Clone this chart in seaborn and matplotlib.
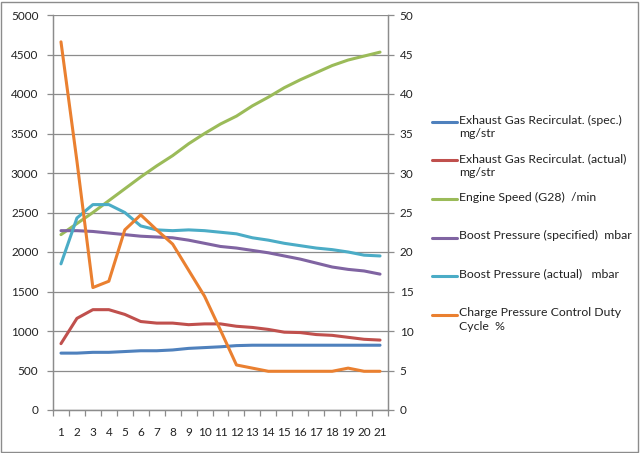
import pandas as pd
import seaborn as sns
import matplotlib.pyplot as plt
from matplotlib.lines import Line2D
from matplotlib.patches import Rectangle

# --- Data ---
categories = list(range(1, 22))

egr_spec = [720, 720, 730, 730, 740, 750, 750, 760, 780, 790, 800,
            815, 820, 820, 820, 820, 820, 820, 820, 820, 820]
egr_actual = [840, 1160, 1270, 1270, 1210, 1120, 1100, 1100, 1080, 1090, 1090,
              1060, 1045, 1020, 985, 980, 955, 945, 920, 895, 885]
engine_speed = [2220, 2360, 2500, 2650, 2800, 2950, 3090, 3220, 3370, 3500, 3620,
                3720, 3850, 3960, 4080, 4180, 4270, 4360, 4430, 4480, 4530]
boost_spec = [2270, 2270, 2260, 2240, 2220, 2200, 2190, 2180, 2150, 2110, 2070,
              2050, 2020, 1990, 1950, 1910, 1860, 1810, 1780, 1760, 1720]
boost_actual = [1850, 2430, 2600, 2600, 2500, 2330, 2280, 2270, 2280, 2270, 2250,
                2230, 2180, 2150, 2110, 2080, 2050, 2030, 2000, 1960, 1950]
duty_cycle = [46.6, 31.5, 15.5, 16.3, 22.8, 24.7, 22.8, 21.0, 17.7, 14.4, 10.1,
              5.7, 5.3, 4.9, 4.9, 4.9, 4.9, 4.9, 5.3, 4.9, 4.9]

left_series = [
    ("Exhaust Gas Recirculat. (spec.)\nmg/str", egr_spec, "#4F81BD"),
    ("Exhaust Gas Recirculat. (actual)\nmg/str", egr_actual, "#C0504D"),
    ("Engine Speed (G28)  /min", engine_speed, "#9BBB59"),
    ("Boost Pressure (specified)  mbar", boost_spec, "#8064A2"),
    ("Boost Pressure (actual)   mbar", boost_actual, "#4BACC6"),
]
right_series = ("Charge Pressure Control Duty\nCycle  %", duty_cycle, "#EA8030")

sns.set_style("white")
plt.rcParams['font.family'] = ['Lato', 'DejaVu Sans']
plt.rcParams['font.size'] = 8

fig = plt.figure(figsize=(6.4, 4.53), dpi=100)
ax = fig.add_axes([53 / 640, 1 - 410 / 453, (388 - 53) / 640, (410 - 15) / 453])
ax2 = ax.twinx()

lw = 2.2
for label, vals, color in left_series:
    df = pd.DataFrame({"x": categories, "y": vals})
    sns.lineplot(data=df, x="x", y="y", ax=ax, color=color, linewidth=lw)
label, vals, color = right_series
df = pd.DataFrame({"x": categories, "y": vals})
sns.lineplot(data=df, x="x", y="y", ax=ax2, color=color, linewidth=lw)

gray = "#8C8C8C"
ax.set_xlim(0.5, 21.5)
ax.set_ylim(0, 5000)
ax2.set_ylim(0, 50)
ax.set_yticks(range(0, 5001, 500))
ax2.set_yticks(range(0, 51, 5))
ax.set_xticks(categories)
ax.set_xticks([c + 0.5 for c in range(0, 22)], minor=True)
ax.set_xlabel("")
ax.set_ylabel("")
ax2.set_ylabel("")

ax.yaxis.grid(True, color=gray, linewidth=0.9)
ax.set_axisbelow(True)
for a in (ax, ax2):
    for s in a.spines.values():
        s.set_color(gray)
        s.set_linewidth(0.9)
    a.spines["top"].set_visible(False)

ax.tick_params(axis="y", which="major", direction="out", length=4, color=gray,
               width=0.9, left=True, pad=6.5, labelsize=8.5, labelcolor="#222222")
ax2.tick_params(axis="y", which="major", direction="out", length=4, color=gray,
                width=0.9, right=True, pad=4.5, labelsize=8.5, labelcolor="#222222")
ax.tick_params(axis="x", which="major", length=0, pad=12, labelsize=8.5,
               labelcolor="#222222")
ax.tick_params(axis="x", which="minor", direction="out", length=4, color=gray,
               width=0.9, bottom=True)

# legend drawn by hand so the handle sits on the first text line
entries = [(l, c) for l, _, c in left_series] + [(right_series[0], right_series[2])]
y0 = 122
for i, (label, color) in enumerate(entries):
    yy = 1 - (y0 + i * 38.5) / 453
    fig.add_artist(Line2D([432 / 640, 457 / 640], [yy, yy], color=color,
                          linewidth=lw, transform=fig.transFigure))
    fig.text(459 / 640, yy + 7.5 / 453, label, va="top", ha="left", fontsize=8.8,
             color="#222222", linespacing=1.3, transform=fig.transFigure)

# outer chart border
fig.add_artist(Rectangle((1 / 640, 1 / 453), 637 / 640, 450 / 453, fill=False,
                         edgecolor=gray, linewidth=1.0, transform=fig.transFigure))

fig.savefig("out.png", dpi=100)
